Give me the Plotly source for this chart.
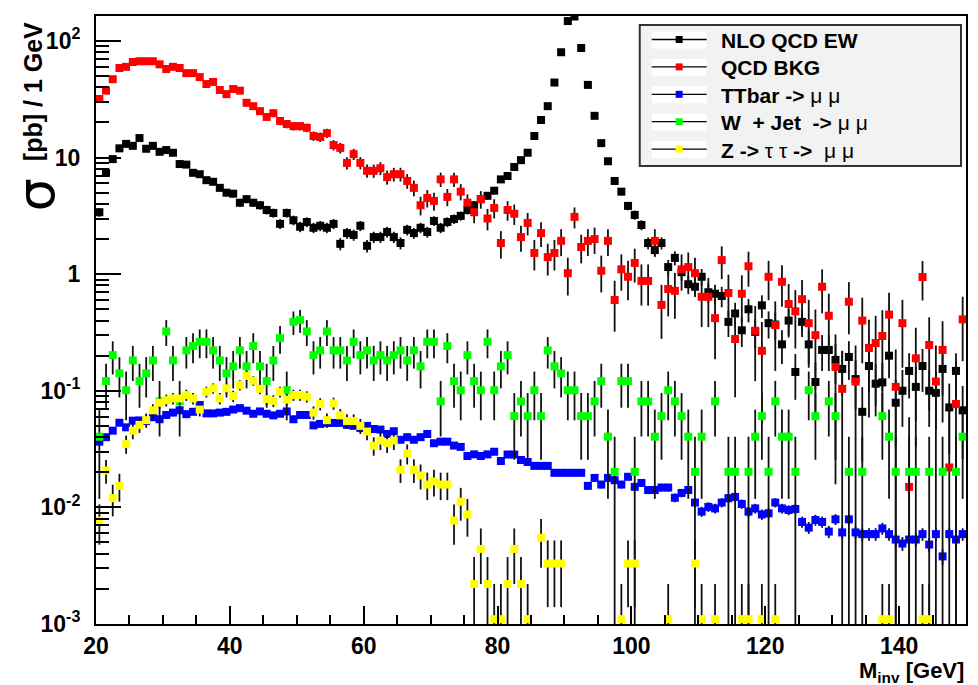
import numpy as np
import plotly.graph_objects as go

# 1 GeV bins from 20 to 150 GeV
bin_centers = np.arange(20.5, 150.0, 1.0)

nlo_qcd_ew = [
    3.4, 7.4, 9.7, 12.0, 13.1, 12.6, 14.7, 11.9, 12.6, 11.2,
    11.6, 11.0, 8.8, 8.7, 7.4, 7.2, 6.4, 6.2, 5.5, 5.0,
    4.9, 4.1, 4.4, 4.1, 3.9, 3.55, 3.35, 2.7, 3.35, 2.9,
    2.55, 2.8, 2.5, 2.6, 2.5, 2.7, 1.82, 2.25, 2.17, 2.6,
    1.75, 2.08, 2.08, 2.3, 2.08, 1.85, 2.4, 2.25, 2.5, 2.3,
    2.86, 2.5, 2.8, 2.97, 3.16, 3.55, 3.9, 4.4, 4.7, 5.2,
    6.5, 6.95, 8.3, 9.5, 11.0, 15.3, 21.0, 27.6, 44.0, 80.0,
    148.0, 162.0, 87.0, 42.0, 22.8, 13.3, 9.3, 6.3, 5.1, 3.85,
    3.22, 2.64, 1.85, 1.61, 1.85, 1.15, 1.38, 1.04, 0.82, 0.78,
    0.95, 0.70, 0.68, 0.65, 0.39, 0.46, 0.33, 0.50, 0.32, 0.54,
    0.38, 0.37, 0.25, 0.40, 0.145, 0.39, 0.25, 0.119, 0.224, 0.224,
    0.184, 0.154, 0.195, 0.126, 0.066, 0.163, 0.115, 0.118, 0.20, 0.079,
    0.10, 0.148, 0.108, 0.163, 0.10, 0.096, 0.154, 0.072, 0.148, 0.068,
]

qcd_bkg = [
    31.8, 37.5, 47.0, 58.6, 60.0, 66.0, 67.0, 67.0, 67.0, 63.0,
    57.5, 60.0, 58.6, 53.0, 53.0, 49.0, 42.7, 44.5, 38.0, 35.0,
    38.7, 37.5, 29.5, 27.6, 25.0, 22.3, 24.0, 20.6, 19.4, 18.6,
    18.6, 18.0, 15.3, 15.0, 16.2, 12.8, 12.1, 9.0, 10.7, 9.0,
    7.7, 7.7, 8.1, 6.8, 7.2, 7.2, 6.3, 5.5, 3.9, 4.5,
    4.25, 6.5, 4.6, 6.5, 5.1, 4.1, 3.4, 4.4, 3.0, 3.7,
    1.85, 3.55, 3.3, 2.08, 2.75, 1.52, 2.25, 1.4, 1.52, 1.93,
    1.02, 3.1, 1.71, 1.93, 2.0, 1.07, 1.93, 0.6, 1.1, 0.95,
    1.25, 0.875, 0.875, 1.93, 0.545, 0.746, 0.72, 1.10, 1.15, 1.02,
    0.64, 0.64, 0.42, 1.32, 0.69, 0.278, 0.68, 1.17, 0.327, 0.22,
    0.95, 0.366, 0.86, 0.555, 0.48, 0.61, 0.38, 0.30, 0.78, 0.44,
    0.16, 0.104, 0.58, 0.12, 0.40, 0.233, 0.257, 0.295, 0.45, 0.108,
    0.38, 0.015, 0.19, 0.945, 0.247, 0.12, 0.224, 0.022, 0.077, 0.41,
]

ttbar = [
    0.0366, 0.040, 0.0455, 0.0532, 0.0486, 0.0554, 0.0557, 0.055, 0.0593, 0.057,
    0.062, 0.065, 0.068, 0.063, 0.066, 0.0755, 0.064, 0.064, 0.065, 0.066,
    0.069, 0.071, 0.0675, 0.0635, 0.0665, 0.0635, 0.0615, 0.0635, 0.0665, 0.057,
    0.062, 0.062, 0.0505, 0.052, 0.053, 0.053, 0.053, 0.051, 0.050, 0.048,
    0.050, 0.047, 0.0465, 0.0426, 0.045, 0.038, 0.040, 0.038, 0.040, 0.0426,
    0.0355, 0.0366, 0.0366, 0.0339, 0.033, 0.0276, 0.0285, 0.0276, 0.0285, 0.030,
    0.025, 0.0284, 0.0284, 0.0255, 0.0245, 0.0227, 0.0227, 0.0227, 0.0198, 0.0198,
    0.0198, 0.0198, 0.0198, 0.0153, 0.0179, 0.0157, 0.0179, 0.0171, 0.0157, 0.0183,
    0.015, 0.0162, 0.0141, 0.0141, 0.0148, 0.0148, 0.0121, 0.0133, 0.0141, 0.011,
    0.0092, 0.0101, 0.0098, 0.011, 0.0120, 0.0123, 0.0107, 0.0092, 0.0098, 0.0087,
    0.0089, 0.011, 0.0098, 0.0095, 0.0097, 0.0075, 0.0067, 0.0078, 0.0075, 0.0062,
    0.0079, 0.0061, 0.0079, 0.0061, 0.0059, 0.0059, 0.0059, 0.0066, 0.0059, 0.0053,
    0.0049, 0.0053, 0.0053, 0.0059, 0.0048, 0.0059, 0.0038, 0.0059, 0.0053, 0.0059,
]

w_jet = [
    0.0404, 0.121, 0.202, 0.141, 0.101, 0.182, 0.121, 0.141, 0.182, 0.081,
    0.323, 0.182, 0.081, 0.222, 0.242, 0.263, 0.263, 0.222, 0.182, 0.141,
    0.162, 0.222, 0.162, 0.242, 0.162, 0.121, 0.182, 0.283, 0.101, 0.39,
    0.404, 0.323, 0.202, 0.222, 0.323, 0.222, 0.222, 0.182, 0.263, 0.202,
    0.222, 0.182, 0.202, 0.182, 0.202, 0.222, 0.182, 0.222, 0.162, 0.263,
    0.263, 0.081, 0.242, 0.121, 0.101, 0.202, 0.121, 0.101, 0.263, 0.101,
    0.162, 0.202, 0.0606, 0.081, 0.0606, 0.101, 0.0606, 0.222, 0.162, 0.141,
    0.101, 0.101, 0.0606, 0.0606, 0.081, 0.121, 0.0404, 0.0202, 0.121, 0.121,
    0.0202, 0.081, 0.081, 0.0404, 0.0606, 0.101, 0.081, 0.0606, 0.0404, 0.0202,
    0.0404, None, 0.081, None, 0.0202, 0.0202, None, 0.0202, 0.0404, 0.0606,
    0.0202, 0.081, 0.0404, 0.0404, 0.0202, None, 0.101, 0.0606, None, 0.081,
    0.0606, None, 0.0202, None, 0.0202, None, None, 0.0606, 0.0404, 0.0202,
    None, 0.0202, 0.0202, None, 0.0202, None, 0.0202, None, 0.0202, 0.0404,
]

z_tautau = [
    0.0077, 0.0207, 0.012, 0.0153, 0.035, 0.0455, 0.051, 0.056, 0.068, 0.079,
    0.083, 0.086, 0.086, 0.092, 0.086, 0.069, 0.098, 0.105, 0.086, 0.105,
    0.090, 0.112, 0.134, 0.122, 0.104, 0.085, 0.082, 0.098, 0.084, 0.092,
    0.092, 0.089, 0.065, 0.077, 0.056, 0.078, 0.0615, 0.055, 0.055, 0.050,
    0.0447, 0.0338, 0.0374, 0.0355, 0.0374, 0.021, 0.029, 0.021, 0.0188, 0.0157,
    0.0167, 0.0157, 0.0157, 0.0077, 0.0112, 0.0087, 0.0022, 0.0044, 0.0022, 0.0011,
    0.0011, 0.0022, 0.0044, 0.0022, 0.0011, None, 0.0055, 0.0033, 0.0033, 0.0033,
    None, None, None, None, None, None, None, None, 0.0011, 0.0033,
    0.0033, None, None, None, None, 0.0011, None, None, None, 0.0033,
    0.0011, None, 0.0011, None, None, None, 0.0011, 0.0011, None, 0.0011,
    None, 0.0011, None, None, None, None, None, None, None, None,
    None, None, None, None, None, None, None, 0.0011, 0.0011, None,
    None, None, None, 0.0011, 0.0011, None, None, None, None, None,
]

names = [
    "<b>NLO QCD EW</b>",
    "<b>QCD BKG</b>",
    "<b>TTbar -></b> μ μ",
    "<b>W  + Jet  -></b> μ μ",
    "<b>Z -></b> τ τ <b>-></b>  μ μ",
]
colors = ["#000000", "#ff0000", "#0000ff", "#00ff00", "#ffff00"]
# per-entry event weight of each sample (sets the Poisson-like bar size)
event_weights = [0.026, 0.13, 9e-5, 0.0202, 0.0011]
all_series = [nlo_qcd_ew, qcd_bkg, ttbar, w_jet, z_tautau]

fig = go.Figure()
for vals, name, col, w in zip(all_series, names, colors, event_weights):
    v = np.array([np.nan if a is None else a for a in vals], dtype=float)
    err = np.sqrt(v * w)
    err_lo = np.minimum(err, v * 0.999999)
    fig.add_trace(go.Scatter(
        x=bin_centers, y=v, mode="markers", showlegend=False,
        name=name,
        marker=dict(symbol="square", size=8, color=col, line=dict(width=0)),
        error_y=dict(type="data", symmetric=False, array=err, arrayminus=err_lo,
                     color="#111111", thickness=1.8, width=0),
        cliponaxis=True,
    ))

W, H = 978, 685
L, R, T, B = 96, 10, 16, 61
pw, ph = W - L - R, H - T - B

def px(xp):
    return (xp - L) / pw

def py(yp):
    return (H - B - yp) / ph

ytick_vals = [1e-3, 1e-2, 1e-1, 1, 10, 100]
ytick_text = ["10<sup>-3</sup>", "10<sup>-2</sup>", "10<sup>-1</sup>", "1", "10", "10<sup>2</sup>"]
yminor = [k * 10.0 ** d for d in range(-3, 2) for k in range(2, 10)]
xtick_vals = [20, 40, 60, 80, 100, 120, 140]

tickfont = dict(family="Liberation Sans", size=23, color="black", weight="bold")

# ROOT-style legend box drawn by hand
shapes = [dict(type="rect", xref="paper", yref="paper",
               x0=px(641), x1=px(963), y0=py(166), y1=py(25),
               fillcolor="#f2f2f2", line=dict(color="#333333", width=2), layer="above")]
annotations = []
row0, drow = 40.5, 27.4
for i, (name, col) in enumerate(zip(names, colors)):
    yc = row0 + drow * i
    shapes.append(dict(type="rect", xref="paper", yref="paper",
                       x0=px(653), x1=px(708), y0=py(yc + 8), y1=py(yc - 9),
                       fillcolor="white", line=dict(width=0), layer="above"))
    shapes.append(dict(type="line", xref="paper", yref="paper",
                       x0=px(653), x1=px(708), y0=py(yc - 1), y1=py(yc - 1),
                       line=dict(color="black", width=1.3), layer="above"))
    shapes.append(dict(type="rect", xref="paper", yref="paper",
                       x0=px(677), x1=px(684), y0=py(yc + 2.5), y1=py(yc - 4.5),
                       fillcolor=col, line=dict(width=0), layer="above"))
    annotations.append(dict(text=name, xref="paper", yref="paper", x=px(720), y=py(yc),
                            xanchor="left", yanchor="middle", showarrow=False,
                            font=dict(family="Liberation Sans", size=21, color="black")))

annotations += [
    dict(text="σ", xref="paper", yref="paper", x=px(36), y=py(195),
         xanchor="center", yanchor="middle", textangle=-90, showarrow=False,
         font=dict(family="DejaVu Sans", size=52, color="black")),
    dict(text="<b>[pb] / 1 GeV</b>", xref="paper", yref="paper", x=px(33), y=py(92),
         xanchor="center", yanchor="middle", textangle=-90, showarrow=False,
         font=dict(family="Liberation Sans", size=25, color="black")),
    dict(text="<b>M<sub>inv</sub> [GeV]</b>", xref="paper", yref="paper", x=px(968), y=py(672),
         xanchor="right", yanchor="middle", showarrow=False,
         font=dict(family="Liberation Sans", size=22, color="black")),
]

fig.update_layout(
    width=W, height=H,
    margin=dict(l=L, r=R, t=T, b=B),
    paper_bgcolor="white", plot_bgcolor="white",
    showlegend=False,
    shapes=shapes,
    annotations=annotations,
    xaxis=dict(
        range=[20, 150], showline=True, linecolor="black", linewidth=2, mirror=True,
        ticks="inside", ticklen=18, tickwidth=1.5, tickcolor="black",
        tickvals=xtick_vals, tickfont=tickfont, showgrid=False, zeroline=False,
        ticklabelstandoff=0,
        minor=dict(ticks="inside", ticklen=9, tickwidth=1.5, tickcolor="black",
                   dtick=5, tick0=20, showgrid=False),
    ),
    yaxis=dict(
        type="log", range=[-3, 2.214], showline=True, linecolor="black", linewidth=2,
        mirror=True, ticks="inside", ticklen=25, tickwidth=1.5, tickcolor="black",
        tickvals=ytick_vals, ticktext=ytick_text, tickfont=tickfont,
        showgrid=False, zeroline=False, ticklabelstandoff=9,
        minor=dict(ticks="inside", ticklen=13, tickwidth=1.5, tickcolor="black",
                   tickvals=yminor, showgrid=False),
    ),
)

fig.write_html("out.html")
